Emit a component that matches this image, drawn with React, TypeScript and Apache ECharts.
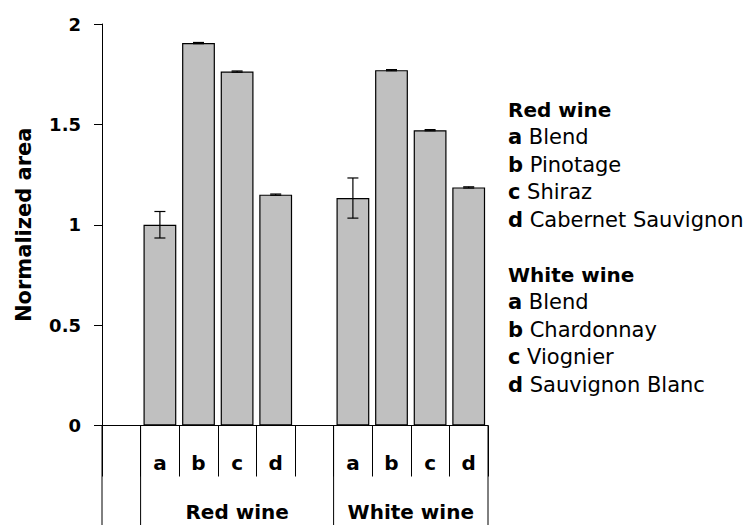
import React, { useEffect, useRef } from "react";
import * as echarts from "echarts";

const categories = ["", "a", "b", "c", "d", "", "a", "b", "c", "d"];
const values: (number | null)[] = [null, 1.0, 1.905, 1.763, 1.15, null, 1.133, 1.77, 1.471, 1.186];
const errors: (number | null)[] = [null, 0.066, 0.003, 0.003, 0.003, null, 0.1, 0.003, 0.003, 0.003];
const groups = [
  { name: "Red wine", start: 1, end: 5 },
  { name: "White wine", start: 6, end: 9 },
];
const fullSeparators = [0, 1, 6, 10];
const legendSections = [
  { title: "Red wine", items: [["a", "Blend"], ["b", "Pinotage"], ["c", "Shiraz"], ["d", "Cabernet Sauvignon"]] },
  { title: "White wine", items: [["a", "Blend"], ["b", "Chardonnay"], ["c", "Viognier"], ["d", "Sauvignon Blanc"]] },
];
const yAxisTitle = "Normalized area";

const FONT = "DejaVu Sans";

export default function App() {
  const ref = useRef<HTMLDivElement>(null);
  useEffect(() => {
    if (!ref.current) return;
    const chart = echarts.init(ref.current, undefined, { renderer: "svg" });
    chart.setOption({
      animation: false,
      backgroundColor: "#ffffff",
      grid: { left: 102, right: 259, top: 24, bottom: 99.5, containLabel: false },
      xAxis: {
        type: "category",
        data: categories,
        boundaryGap: true,
        axisLine: { show: true, lineStyle: { color: "#000", width: 1 } },
        axisTick: { show: true, interval: 0, length: 51, lineStyle: { color: "#000", width: 1 } },
        axisLabel: {
          interval: 0,
          margin: 27,
          color: "#000",
          fontFamily: FONT,
          fontWeight: "bold",
          fontSize: 20,
        },
      },
      yAxis: {
        type: "value",
        min: 0,
        max: 2,
        interval: 0.5,
        name: yAxisTitle,
        nameLocation: "middle",
        nameGap: 68,
        nameTextStyle: { color: "#000", fontFamily: FONT, fontWeight: "bold", fontSize: 21 },
        axisLine: { show: true, lineStyle: { color: "#000", width: 1 } },
        axisTick: { show: true, length: 8, lineStyle: { color: "#000", width: 1 } },
        splitLine: { show: false },
        axisLabel: { margin: 21, color: "#000", fontFamily: FONT, fontWeight: "bold", fontSize: 18 },
      },
      series: [
        {
          type: "bar",
          data: values,
          barCategoryGap: "15%",
          itemStyle: { color: "#c0c0c0", borderColor: "#000", borderWidth: 1.2 },
        },
        {
          type: "custom",
          data: values.map((v, i) => [i, v, errors[i]]).filter((d) => d[1] != null),
          encode: { x: 0, y: 1 },
          z: 10,
          renderItem: (params: any, api: any) => {
            const i = api.value(0);
            const v = api.value(1);
            const e = api.value(2);
            const top = api.coord([i, v + e]);
            const bot = api.coord([i, v - e]);
            const hw = 5.5;
            const style = { stroke: "#000", lineWidth: 1.2 };
            return {
              type: "group",
              children: [
                { type: "line", shape: { x1: top[0], y1: top[1], x2: bot[0], y2: bot[1] }, style },
                { type: "line", shape: { x1: top[0] - hw, y1: top[1], x2: top[0] + hw, y2: top[1] }, style },
                { type: "line", shape: { x1: bot[0] - hw, y1: bot[1], x2: bot[0] + hw, y2: bot[1] }, style },
              ],
            };
          },
        },
      ],
    });

    const c0 = chart.convertToPixel({ xAxisIndex: 0 }, 0) as number;
    const c1 = chart.convertToPixel({ xAxisIndex: 0 }, 1) as number;
    const bw = c1 - c0;
    const boundary = (k: number) => c0 - bw / 2 + k * bw;
    const y0 = chart.convertToPixel({ yAxisIndex: 0 }, 0) as number;
    const H = chart.getHeight();

    const graphics: any[] = [];
    fullSeparators.forEach((k) => {
      graphics.push({
        type: "line",
        shape: { x1: boundary(k), y1: y0, x2: boundary(k), y2: H },
        style: { stroke: "#000", lineWidth: 1 },
      });
    });
    groups.forEach((g) => {
      graphics.push({
        type: "text",
        x: (boundary(g.start) + boundary(g.end + 1)) / 2,
        y: 512,
        style: {
          text: g.name,
          fill: "#000",
          font: `bold 20px "${FONT}"`,
          align: "center",
          verticalAlign: "middle",
        },
      });
    });
    let row = 0;
    const lx = 508;
    const ly = 109.5;
    const lh = 27.5;
    legendSections.forEach((s, si) => {
      if (si > 0) row += 1;
      graphics.push({
        type: "text",
        x: lx,
        y: ly + row * lh,
        style: { text: s.title, fill: "#000", font: `bold 20px "${FONT}"`, align: "left", verticalAlign: "middle" },
      });
      row += 1;
      s.items.forEach(([k, n]) => {
        graphics.push({
          type: "text",
          x: lx,
          y: ly + row * lh,
          style: {
            text: `{b|${k}}{n| ${n}}`,
            align: "left",
            verticalAlign: "middle",
            rich: {
              b: { fontFamily: FONT, fontWeight: "bold", fontSize: 21, fill: "#000" },
              n: { fontFamily: FONT, fontWeight: "normal", fontSize: 21, fill: "#000" },
            },
          },
        });
        row += 1;
      });
    });
    chart.setOption({ graphic: graphics });

    return () => chart.dispose();
  }, []);
  return <div ref={ref} style={{ position: "fixed", left: 0, top: 0, width: 747, height: 525 }} />;
}
